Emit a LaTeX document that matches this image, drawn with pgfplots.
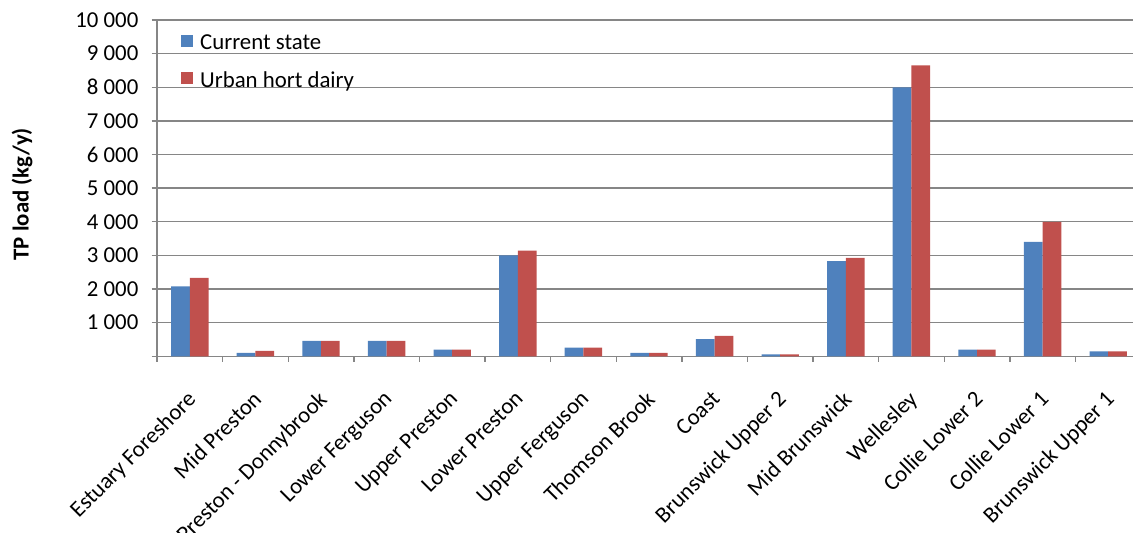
\documentclass[border=0pt]{standalone}
\usepackage{fontspec}
\setmainfont{Carlito}
\usepackage{pgfplots}
\usepackage{pgfplotstable}
\pgfplotsset{compat=1.18}

\definecolor{barblue}{HTML}{4F81BD}
\definecolor{barred}{HTML}{C0504D}
\definecolor{gridgray}{HTML}{868686}

% TP load per catchment (kg/y)
\pgfplotstableread{
idx current urban
0   2080    2330
1   100     160
2   460     460
3   460     460
4   200     200
5   3000    3140
6   260     260
7   100     100
8   510     610
9   60      60
10  2830    2930
11  8000    8650
12  200     200
13  3400    4000
14  150     150
}\tpload

\begin{document}
\begin{tikzpicture}[font=\fontsize{22.8}{27}\selectfont]
\path[use as bounding box] (0pt,0pt) rectangle (1133pt,533pt);
\begin{axis}[
  at={(157pt,176.7pt)}, anchor=south west,
  scale only axis, width=984pt, height=336.3pt,
  xmin=-0.5, xmax=14.5, ymin=0, ymax=10000,
  scaled y ticks=false,
  ybar=0pt, bar width=18.7pt,
  axis lines*=left,
  axis line style={gridgray, line width=1.4pt},
  ymajorgrids, grid style={gridgray, line width=1.4pt},
  tick align=outside,
  tick style={gridgray, line width=1.4pt},
  major tick length=5.5pt,
  ytick={0,1000,...,10000},
  yticklabels={,1 000,2 000,3 000,4 000,5 000,6 000,7 000,8 000,9 000,10 000},
  yticklabel style={inner sep=0pt, xshift=-13pt},
  xtick={-0.5,0.5,...,14.5},
  xticklabels={},
  extra x ticks={0,1,...,14},
  extra x tick labels={Estuary Foreshore,Mid Preston,Preston - Donnybrook,Lower Ferguson,Upper Preston,Lower Preston,Upper Ferguson,Thomson Brook,Coast,Brunswick Upper 2,Mid Brunswick,Wellesley,Collie Lower 2,Collie Lower 1,Brunswick Upper 1},
  extra x tick style={major tick length=0pt, grid=none},
  xticklabel style={xshift=-4pt, yshift=-2pt, rotate=45, anchor=north east, inner sep=0pt},
  xticklabel shift=31pt,
  ylabel={\bfseries TP load (kg/y)},
  every axis y label/.style={at={([xshift=-135pt,yshift=-6pt]rel axis cs:0,0.5)}, rotate=90, anchor=center},
  legend style={draw=none, fill=none, at={(rel axis cs:0,1)}, anchor=north west,
    xshift=24pt, yshift=-14pt, row sep=18pt, column sep=6pt, inner sep=0pt,
    nodes={inner sep=1pt}},
  legend image code/.code={\fill[#1] (0pt,-3.5pt) rectangle (12pt,8.5pt);},
  legend cell align=left,
]
\addplot[fill=barblue, draw=none] table[x=idx, y=current] {\tpload};
\addplot[fill=barred, draw=none] table[x=idx, y=urban] {\tpload};
\legend{Current state, Urban hort dairy}
\end{axis}
\end{tikzpicture}
\end{document}
